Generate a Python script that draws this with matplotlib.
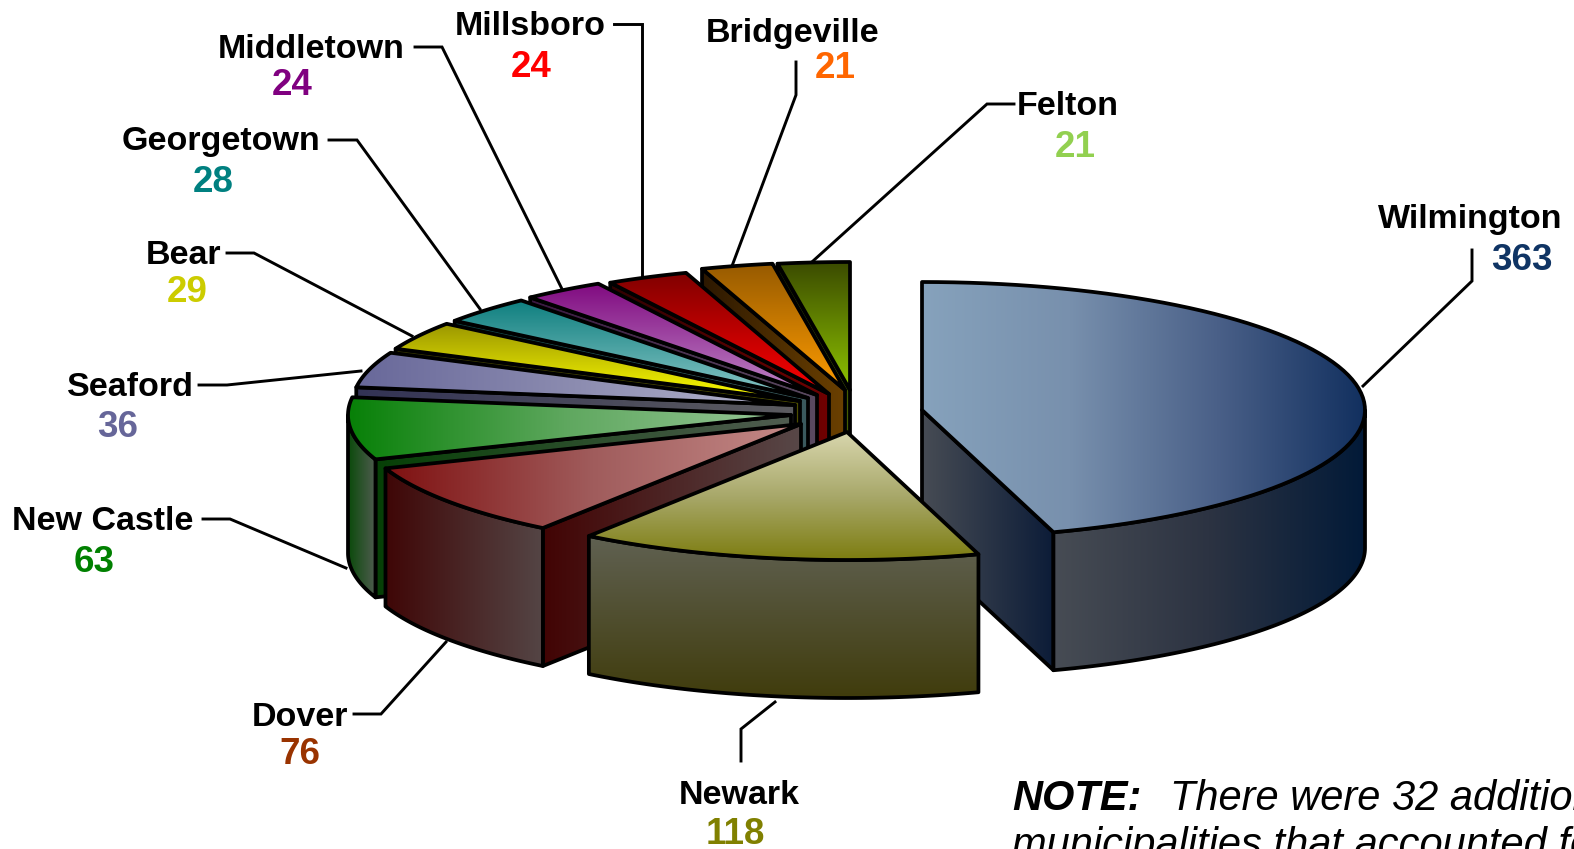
import matplotlib
matplotlib.use('Agg')
import matplotlib.pyplot as plt
import numpy as np
from matplotlib.colors import LinearSegmentedColormap
from matplotlib.patches import Polygon

plt.rcParams['font.family'] = ['Liberation Sans', 'DejaVu Sans']

# Counts per municipality, clockwise from 12 o'clock
towns = ['Wilmington', 'Newark', 'Dover', 'New Castle', 'Seaford', 'Bear',
         'Georgetown', 'Middletown', 'Millsboro', 'Bridgeville', 'Felton']
counts = [363, 118, 76, 63, 36, 29, 28, 24, 24, 21, 21]
value_colors = ['#0f3464', '#808000', '#993300', '#008000', '#666699', '#cccc00',
                '#008080', '#800080', '#ff0000', '#ff6600', '#92d050']

# Pie geometry in image pixels
RX, RY, DEPTH = 443, 128, 138
apex = {
    'Wilmington': (922, 410), 'Newark': (847, 432), 'Dover': (801, 424),
    'New Castle': (791, 415), 'Seaford': (795, 405), 'Bear': (800, 401),
    'Georgetown': (808, 398), 'Middletown': (817, 395), 'Millsboro': (829, 394),
    'Bridgeville': (845, 390), 'Felton': (850, 390),
}

# top gradient (direction, stops), wall stops, cut face stops
styles = {
    'Wilmington': ('h', ['#86a2bc', '#7890ad', '#4a6088', '#12305f'], ['#474c54', '#2c3342', '#021a38'], ['#474c54', '#0c1c38']),
    'Newark': ('v', ['#d8d6ad', '#a8a86a', '#7d7d10'], ['#606152', '#403c0c'], ['#606152', '#403c0c']),
    'Dover': ('h', ['#7f1010', '#a05c5c', '#c58a88'], ['#3f0606', '#544545'], ['#420404', '#584848']),
    'New Castle': ('h', ['#078007', '#60a860', '#98c898'], ['#0a4a0a', '#505c50'], ['#064006', '#505c50']),
    'Seaford': ('h', ['#68689a', '#8c8cb0', '#b8b8d0'], ['#333355', '#5c5c60'], ['#333355', '#5c5c60']),
    'Bear': ('v', ['#9a9600', '#ffff00'], ['#303000', '#505000'], ['#303000', '#505000']),
    'Georgetown': ('v', ['#0e7f7f', '#8cc8c8'], ['#0f4040', '#3b5a5e'], ['#0f4040', '#3b5a5e']),
    'Middletown': ('v', ['#800a80', '#c088c8'], ['#3a1840', '#5a4a60'], ['#3a1840', '#5a4a60']),
    'Millsboro': ('v', ['#800000', '#ff0000'], ['#300000', '#700000'], ['#300000', '#700000']),
    'Bridgeville': ('v', ['#965a00', '#ff9c00'], ['#2c1800', '#6b4000'], ['#2c1800', '#6b4000']),
    'Felton': ('v', ['#3a4a00', '#8fc400'], ['#1c2800', '#4a6000'], ['#1c2800', '#4a6000']),
}

# Label and leader layout, image pixels
label_pos = {
    'Wilmington': ((1470, 219), (1522, 261)), 'Newark': ((739, 795), (735, 834)),
    'Dover': ((300, 718), (300, 754)), 'New Castle': ((103, 521), (94, 562)),
    'Seaford': ((130, 387), (118, 427)), 'Bear': ((184, 255), (187, 292)),
    'Georgetown': ((221, 141), (213, 182)), 'Middletown': ((311, 49), (292, 85)),
    'Millsboro': ((530, 26), (531, 67)), 'Bridgeville': ((793, 33), (835, 68)),
    'Felton': ((1068, 106), (1075, 147)),
}
leaders = {
    'Wilmington': [(1472, 250), (1472, 281), (1363, 386)],
    'Newark': [(775, 702), (741, 729), (741, 761)],
    'Dover': [(446, 642), (381, 714), (354, 714)],
    'New Castle': [(346, 568), (230, 519), (203, 519)],
    'Seaford': [(361, 371), (227, 385), (199, 385)],
    'Bear': [(412, 336), (254, 253), (227, 253)],
    'Georgetown': [(480, 309), (357, 140), (329, 140)],
    'Middletown': [(562, 289), (442, 47), (415, 47)],
    'Millsboro': [(642, 276), (642, 24), (614, 24)],
    'Bridgeville': [(732, 266), (796, 95), (796, 62)],
    'Felton': [(813, 261), (987, 104), (1014, 104)],
}

fig = plt.figure(figsize=(15.74, 8.49), dpi=100)
ax = fig.add_axes([0, 0, 1, 1])
ax.axis('off')

zorder = [1]


def shade(xs, ys, stops, direction, lw=2.7):
    # Polygon filled with a linear gradient over its own bounding box
    z = zorder[0]
    zorder[0] += 1
    pts = np.column_stack([xs, ys])
    cmap = LinearSegmentedColormap.from_list('g', stops)
    ramp = np.linspace(0, 1, 256)
    grad = ramp[None, :] if direction == 'h' else ramp[:, None]
    im = ax.imshow(grad, cmap=cmap, vmin=0, vmax=1, aspect='auto', origin='upper',
                   extent=(min(xs), max(xs), max(ys), min(ys)), zorder=z)
    clip = Polygon(pts, closed=True, transform=ax.transData, facecolor='none', edgecolor='none')
    ax.add_patch(clip)
    im.set_clip_path(clip)
    ax.add_patch(Polygon(pts, closed=True, facecolor='none', edgecolor='black',
                         linewidth=lw, joinstyle='round', zorder=z + 0.5))


def rim(cx, cy, th):
    th = np.radians(th)
    return cx + RX * np.sin(th), cy - RY * np.cos(th)


edges = np.concatenate([[0], np.cumsum(counts)]) / np.sum(counts) * 360
angles = {t: (edges[i], edges[i + 1]) for i, t in enumerate(towns)}

# Back slices first, Newark sits in front of everything
draw_order = ['Felton', 'Bridgeville', 'Millsboro', 'Middletown', 'Georgetown', 'Bear',
              'Seaford', 'New Castle', 'Dover', 'Wilmington', 'Newark']

for town in draw_order:
    cx, cy = apex[town]
    a0, a1 = angles[town]
    direction, top_stops, wall_stops, face_stops = styles[town]

    # cut faces that look towards the viewer
    for th, visible in ((a0, 180 < a0 < 360), (a1, 0 < a1 < 180)):
        if visible:
            rx, ry = rim(cx, cy, th)
            shade([cx, rx, rx, cx], [cy, ry, ry + DEPTH, cy + DEPTH], face_stops, 'h')

    # outer wall, front half of the ellipse only
    w0, w1 = max(a0, 90), min(a1, 270)
    if w0 < w1:
        th = np.linspace(w0, w1, 80)
        xs, ys = rim(cx, cy, th)
        wx = np.concatenate([xs, xs[::-1]])
        wy = np.concatenate([ys, ys[::-1] + DEPTH])
        shade(wx, wy, wall_stops, 'v' if town == 'Newark' else 'h')

    # top face
    th = np.linspace(a0, a1, 80)
    xs, ys = rim(cx, cy, th)
    shade(np.concatenate([[cx], xs]), np.concatenate([[cy], ys]), top_stops, direction)

# Leader lines
for town in towns:
    lx, ly = zip(*leaders[town])
    ax.plot(lx, ly, color='black', linewidth=2.1, solid_joinstyle='miter', zorder=zorder[0] + 1)

# Labels
for town, n, col in zip(towns, counts, value_colors):
    (tx, ty), (vx, vy) = label_pos[town]
    ax.text(tx, ty, town, ha='center', va='center', fontsize=24.5, fontweight='bold',
            color='black', zorder=zorder[0] + 2)
    ax.text(vx, vy, str(n), ha='center', va='center', fontsize=26.5, fontweight='bold',
            color=col, zorder=zorder[0] + 2)

# Note runs off the edge of the picture
ax.text(1012, 810, 'NOTE:', ha='left', va='baseline', fontsize=30, fontweight='bold',
        fontstyle='italic', color='black')
ax.text(1170, 810, 'There were 32 additional', ha='left', va='baseline', fontsize=30,
        fontstyle='italic', color='black')
ax.text(1012, 857, 'municipalities that accounted for', ha='left', va='baseline', fontsize=30,
        fontstyle='italic', color='black')

ax.set_xlim(0, 1574)
ax.set_ylim(849, 0)

plt.savefig('out.png', dpi=100, facecolor='white')
plt.close()
